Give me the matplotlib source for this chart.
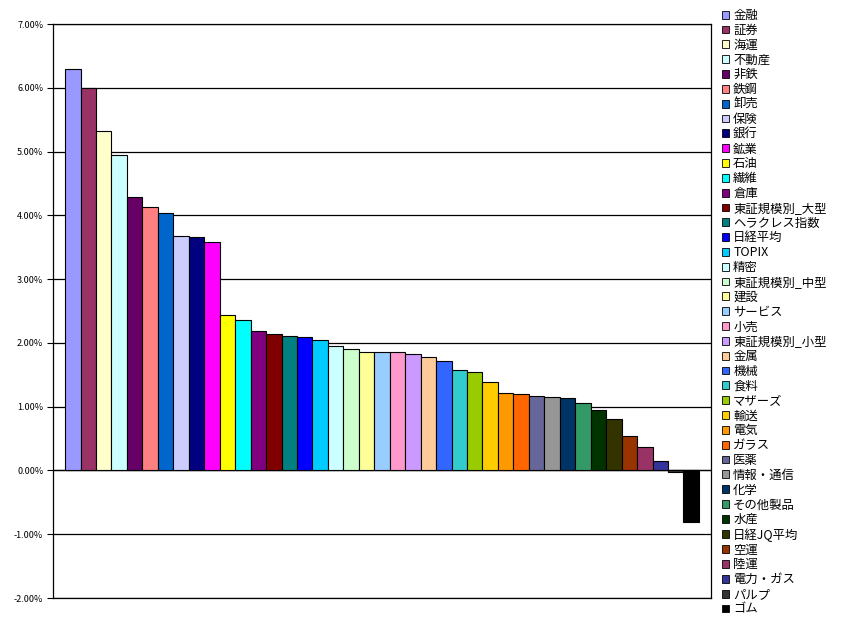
import matplotlib
matplotlib.use("Agg")
import matplotlib.pyplot as plt
from matplotlib.patches import Patch
from matplotlib.ticker import FuncFormatter

plt.rcParams['font.family'] = ['Noto Sans CJK JP', 'DejaVu Sans']

# sectors / indices, sorted by return
names = ["金融", "証券", "海運", "不動産", "非鉄", "鉄鋼", "卸売", "保険", "銀行", "鉱業",
         "石油", "繊維", "倉庫", "東証規模別_大型", "ヘラクレス指数", "日経平均", "TOPIX", "精密",
         "東証規模別_中型", "建設", "サービス", "小売", "東証規模別_小型", "金属", "機械", "食料",
         "マザーズ", "輸送", "電気", "ガラス", "医薬", "情報・通信", "化学", "その他製品", "水産",
         "日経JQ平均", "空運", "陸運", "電力・ガス", "パルプ", "ゴム"]

# returns in %
values = [6.29, 5.99, 5.32, 4.94, 4.29, 4.13, 4.04, 3.68, 3.66, 3.58,
          2.43, 2.36, 2.19, 2.14, 2.11, 2.09, 2.04, 1.95, 1.91, 1.86,
          1.86, 1.86, 1.83, 1.78, 1.72, 1.57, 1.55, 1.39, 1.22, 1.20,
          1.17, 1.15, 1.14, 1.06, 0.94, 0.80, 0.54, 0.36, 0.15, -0.02, -0.81]

# old excel chart palette
colors = ["#9999FF", "#993366", "#FFFFCC", "#CCFFFF", "#660066", "#FF8080", "#0066CC", "#CCCCFF",
          "#000080", "#FF00FF", "#FFFF00", "#00FFFF", "#800080", "#800000", "#008080", "#0000FF",
          "#00CCFF", "#CCFFFF", "#CCFFCC", "#FFFF99", "#99CCFF", "#FF99CC", "#CC99FF", "#FFCC99",
          "#3366FF", "#33CCCC", "#99CC00", "#FFCC00", "#FF9900", "#FF6600", "#666699", "#969696",
          "#003366", "#339966", "#003300", "#333300", "#993300", "#993366", "#333399", "#333333",
          "#000000"]

fig = plt.figure(figsize=(8.46, 6.29), dpi=100)
ax = fig.add_axes([53/846, 1-598/629, (711-53)/846, (598-24)/629])

x = list(range(len(values)))
ax.bar(x, values, width=1.0, color=colors, edgecolor="black", linewidth=0.8, zorder=3)

ax.set_ylim(-2, 7)
ax.set_xlim(-1.28, len(values) - 1 + 1.28)
ax.set_yticks(range(-2, 8))
ax.yaxis.set_major_formatter(FuncFormatter(lambda v, p: f"{v:.2f}%"))
ax.tick_params(axis="y", labelsize=6.5, length=4, width=0.8, direction="out", pad=3)
ax.set_xticks([])
ax.grid(axis="y", color="black", linewidth=0.9, zorder=0)
ax.axhline(0, color="black", linewidth=0.9, zorder=2)
for s in ax.spines.values():
    s.set_linewidth(0.9)
    s.set_color("black")

handles = [Patch(facecolor=c, edgecolor="black", linewidth=0.6) for c in colors]
fig.legend(handles, names, loc="upper left", bbox_to_anchor=(722/846, 1-9/629),
           frameon=False, fontsize=8.9, handlelength=0.6, handleheight=0.6,
           handletextpad=0.3, labelspacing=0.148, borderaxespad=0, borderpad=0)

fig.savefig("out.png", dpi=100)
